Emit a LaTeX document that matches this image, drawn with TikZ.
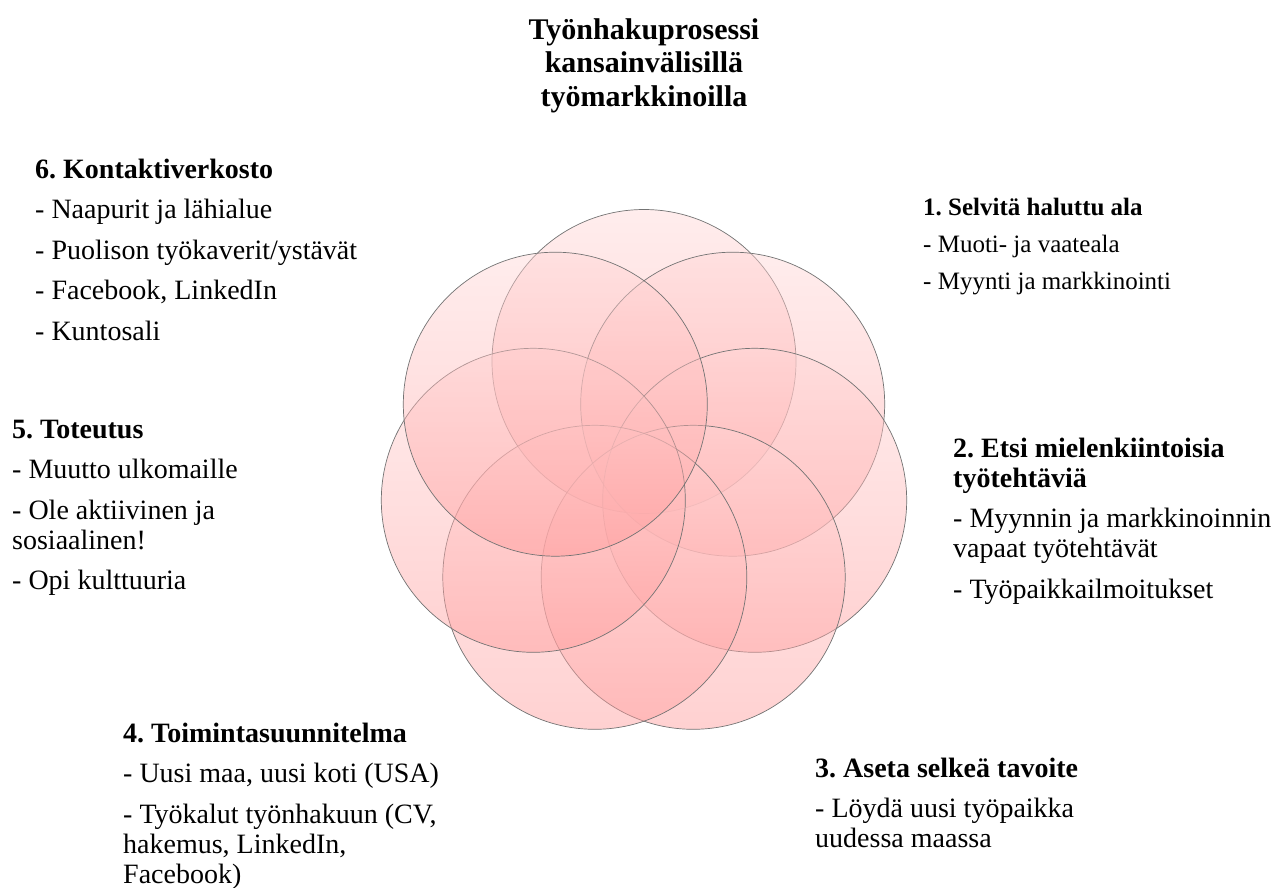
\documentclass[tikz,border=0pt]{standalone}
\usepackage{fontspec}
\setmainfont{Liberation Serif}

\begin{document}
\frenchspacing
\begin{tikzpicture}[x=1pt,y=-1pt,
  petal/.style={draw=black!55, line width=0.7pt, top color=red!16, bottom color=red!40, fill opacity=0.45},
  block/.style={anchor=base west, inner sep=0pt, text width=420pt, align=flush left, font=\fontsize{28}{30}\selectfont},
  smallblock/.style={block, font=\fontsize{25}{37}\selectfont}]
  \useasboundingbox (0,0) rectangle (1275,887);
  \coordinate (c1) at (644,361.5);
  \coordinate (c2) at (732.7,404.2);
  \coordinate (c3) at (754.7,500.3);
  \coordinate (c4) at (693.2,577.3);
  \coordinate (c5) at (594.8,577.3);
  \coordinate (c6) at (533.3,500.3);
  \coordinate (c7) at (555.3,404.2);
  \shadedraw[petal] (c1) circle[radius=152pt];
  \shadedraw[petal] (c2) circle[radius=152pt];
  \shadedraw[petal] (c3) circle[radius=152pt];
  \shadedraw[petal] (c4) circle[radius=152pt];
  \shadedraw[petal] (c5) circle[radius=152pt];
  \shadedraw[petal] (c6) circle[radius=152pt];
  \shadedraw[petal] (c7) circle[radius=152pt];
  \node[anchor=base, align=center, inner sep=0pt, font=\bfseries\fontsize{30}{33.5}\selectfont] (title) at (644,106)
    {Työnhakuprosessi\\kansainvälisillä\\työmarkkinoilla};
  \node[smallblock] (s1) at (923,215)
    {\textbf{1. Selvitä haluttu ala}\\- Muoti- ja vaateala\\- Myynti ja markkinointi};
  \node[block] (s2) at (953,457)
    {\textbf{2. Etsi mielenkiintoisia}\\\textbf{työtehtäviä}\\[10.5pt]- Myynnin ja markkinoinnin\\vapaat työtehtävät\\[10.5pt]- Työpaikkailmoitukset};
  \node[block] (s3) at (815,777)
    {\textbf{3. Aseta selkeä tavoite}\\[10.5pt]- Löydä uusi työpaikka\\uudessa maassa};
  \node[block] (s4) at (123,742)
    {\textbf{4. Toimintasuunnitelma}\\[10.5pt]- Uusi maa, uusi koti (USA)\\[10.5pt]- Työkalut työnhakuun (CV,\\hakemus, LinkedIn,\\Facebook)};
  \node[block] (s5) at (12,438)
    {\textbf{5. Toteutus}\\[10.5pt]- Muutto ulkomaille\\[10.5pt]- Ole aktiivinen ja\\sosiaalinen!\\[10.5pt]- Opi kulttuuria};
  \node[block] (s6) at (35,178)
    {\textbf{6. Kontaktiverkosto}\\[10.5pt]- Naapurit ja lähialue\\[10.5pt]- Puolison työkaverit/ystävät\\[10.5pt]- Facebook, LinkedIn\\[10.5pt]- Kuntosali};
\end{tikzpicture}
\end{document}
